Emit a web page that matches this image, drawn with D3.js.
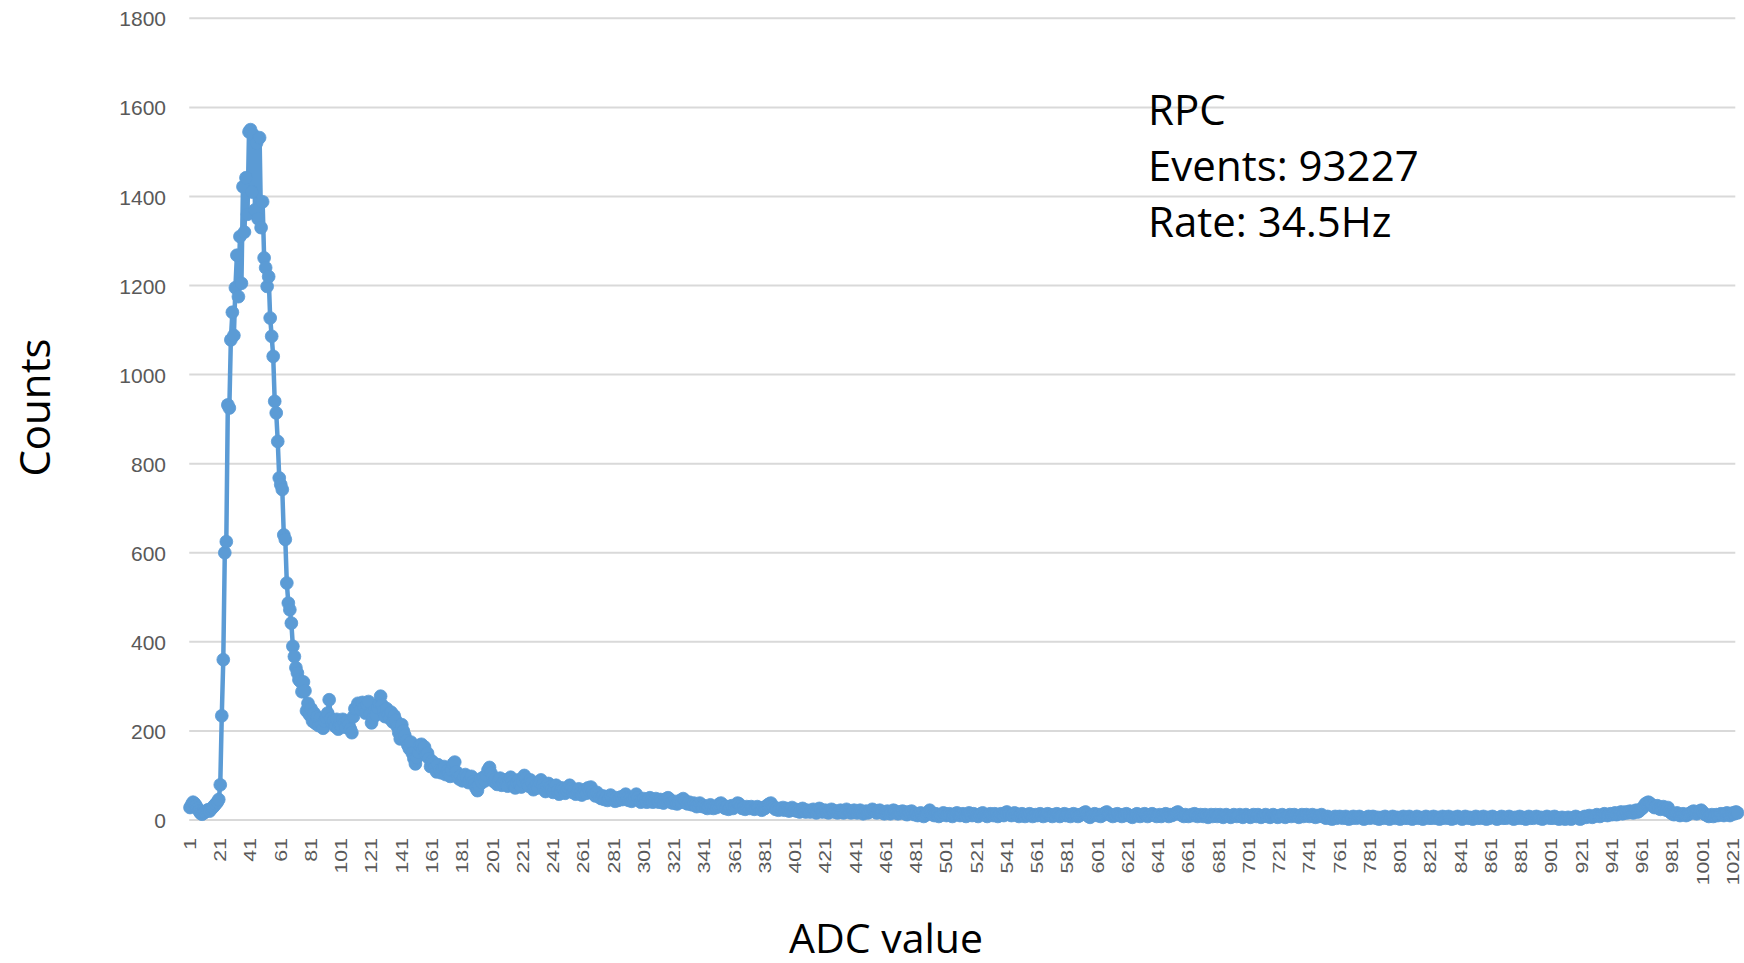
<!DOCTYPE html>
<html>
<head>
<meta charset="utf-8">
<script src="https://cdn.jsdelivr.net/npm/d3@7"></script>
<style>
  html, body { margin: 0; padding: 0; background: #ffffff; }
  svg { display: block; }
</style>
</head>
<body>
<svg id="chart" width="1744" height="963"></svg>
<script>
// ---- data: counts per ADC value (category 1..1024) ----
const counts001_100 = [
  28, 34, 40, 37, 32, 26, 20, 15, 13, 16,
  18, 21, 23, 20, 25, 28, 32, 36, 40, 46,
  79, 234, 360, 600, 625, 932, 925, 1078, 1140, 1088,
  1195, 1268, 1175, 1310, 1205, 1422, 1320, 1442, 1360, 1545,
  1550, 1410, 1538, 1370, 1520, 1350, 1532, 1330, 1388, 1262,
  1240, 1198, 1220, 1127, 1086, 1041, 940, 914, 850, 768,
  753, 742, 640, 630, 532, 487, 472, 442, 390, 367,
  342, 330, 315, 311, 288, 310, 290, 245, 262, 236,
  250, 222, 240, 217, 232, 212, 228, 215, 206, 222,
  230, 240, 270, 228, 218, 224, 210, 226, 204, 215
];
const counts101_200 = [
  212, 226, 218, 208, 222, 214, 204, 196, 232, 250,
  250, 262, 258, 248, 264, 252, 240, 260, 266, 238,
  218, 230, 246, 236, 252, 262, 278, 258, 245, 232,
  250, 236, 228, 242, 220, 234, 224, 210, 196, 182,
  214, 200, 190, 178, 168, 160, 175, 150, 138, 126,
  140, 152, 168, 170, 158, 164, 146, 150, 138, 120,
  132, 128, 118, 108, 124, 112, 106, 115, 120, 102,
  110, 104, 98, 112, 126, 130, 108, 96, 92, 100,
  88, 94, 102, 96, 84, 90, 98, 86, 80, 72,
  66, 78, 92, 84, 96, 88, 100, 112, 118, 105
];
const counts201_300 = [
  96, 86, 92, 80, 88, 94, 78, 84, 90, 82,
  76, 88, 96, 86, 78, 72, 84, 90, 80, 74,
  86, 100, 94, 82, 76, 90, 84, 68, 74, 80,
  72, 86, 90, 78, 70, 64, 76, 82, 74, 68,
  62, 70, 78, 66, 58, 64, 72, 68, 60, 66,
  72, 78, 70, 62, 66, 58, 64, 70, 60, 56,
  62, 68, 60, 72, 66, 74, 64, 58, 54, 62,
  56, 50, 48, 54, 46, 52, 44, 48, 56, 50,
  46, 42, 50, 44, 48, 52, 46, 54, 58, 50,
  44, 48, 42, 46, 52, 58, 50, 44, 40, 46
];
const counts301_400 = [
  48, 42, 40, 46, 50, 44, 40, 44, 48, 42,
  40, 46, 42, 38, 44, 48, 50, 46, 40, 38,
  42, 38, 36, 40, 44, 40, 48, 44, 38, 36,
  40, 36, 34, 38, 34, 30, 34, 38, 32, 30,
  32, 28, 26, 30, 34, 28, 26, 30, 28, 32,
  36, 38, 34, 28, 26, 30, 24, 28, 32, 26,
  30, 34, 38, 36, 30, 26, 28, 24, 30, 28,
  26, 30, 28, 24, 26, 30, 28, 24, 22, 28,
  26, 30, 34, 36, 38, 32, 28, 24, 26, 22,
  26, 24, 28, 22, 26, 24, 20, 24, 28, 22
];
const counts401_500 = [
  24, 20, 22, 18, 24, 26, 20, 18, 22, 20,
  18, 22, 24, 20, 16, 22, 26, 24, 18, 20,
  22, 18, 16, 20, 24, 22, 18, 20, 16, 18,
  22, 20, 16, 18, 24, 20, 18, 16, 20, 22,
  18, 16, 20, 22, 18, 14, 18, 20, 16, 18,
  20, 24, 22, 18, 16, 20, 22, 18, 16, 14,
  18, 20, 16, 14, 18, 22, 20, 16, 14, 18,
  16, 20, 18, 14, 12, 18, 16, 20, 14, 12,
  14, 10, 12, 16, 12, 8, 10, 14, 18, 22,
  16, 12, 10, 14, 12, 8, 10, 12, 16, 14
];
const counts501_600 = [
  10, 12, 14, 10, 8, 12, 14, 16, 12, 10,
  12, 14, 10, 8, 12, 16, 12, 10, 14, 12,
  10, 8, 12, 14, 16, 12, 10, 8, 12, 14,
  12, 10, 14, 12, 8, 10, 14, 12, 10, 16,
  18, 14, 12, 10, 12, 16, 14, 10, 8, 12,
  14, 10, 8, 12, 10, 14, 12, 8, 10, 12,
  10, 12, 14, 10, 8, 12, 10, 14, 12, 10,
  8, 12, 10, 14, 12, 8, 10, 12, 14, 10,
  12, 10, 8, 12, 14, 10, 12, 8, 10, 12,
  14, 16, 18, 12, 8, 6, 10, 12, 14, 12
];
const counts601_700 = [
  10, 12, 8, 10, 14, 16, 18, 14, 12, 10,
  8, 12, 10, 14, 12, 10, 8, 12, 10, 14,
  12, 10, 8, 6, 10, 12, 14, 10, 8, 12,
  10, 14, 12, 8, 10, 12, 14, 12, 10, 8,
  10, 12, 8, 10, 12, 14, 10, 8, 12, 10,
  12, 14, 16, 18, 14, 12, 10, 8, 12, 10,
  8, 10, 12, 10, 14, 12, 8, 10, 12, 10,
  8, 12, 10, 6, 10, 12, 8, 10, 12, 8,
  10, 12, 8, 6, 10, 12, 10, 8, 6, 10,
  12, 10, 8, 10, 12, 8, 6, 10, 12, 10
];
const counts701_800 = [
  8, 6, 10, 12, 10, 8, 12, 10, 6, 8,
  10, 12, 8, 10, 6, 8, 12, 10, 8, 6,
  10, 8, 12, 10, 6, 8, 10, 12, 8, 10,
  12, 10, 8, 6, 10, 12, 8, 10, 12, 10,
  8, 10, 12, 8, 6, 10, 8, 10, 12, 8,
  6, 4, 8, 6, 4, 2, 6, 8, 4, 6,
  8, 6, 4, 6, 8, 4, 2, 6, 4, 8,
  6, 4, 6, 8, 6, 4, 2, 4, 6, 8,
  4, 6, 8, 6, 4, 6, 2, 4, 6, 4,
  8, 6, 4, 2, 6, 8, 6, 4, 6, 4
];
const counts801_900 = [
  2, 6, 8, 4, 6, 4, 8, 6, 2, 4,
  6, 8, 4, 6, 4, 2, 6, 8, 6, 4,
  6, 4, 8, 6, 4, 6, 2, 4, 8, 6,
  4, 6, 8, 4, 2, 6, 4, 6, 8, 6,
  4, 2, 6, 8, 6, 4, 6, 4, 2, 6,
  8, 4, 6, 4, 6, 8, 4, 2, 6, 4,
  6, 8, 6, 4, 2, 4, 6, 8, 4, 6,
  4, 6, 8, 6, 4, 2, 6, 4, 6, 8,
  4, 6, 4, 2, 6, 8, 4, 6, 4, 6,
  8, 6, 4, 6, 2, 4, 6, 8, 6, 4
];
const counts901_1000 = [
  6, 4, 8, 6, 4, 2, 4, 6, 4, 2,
  4, 6, 4, 2, 4, 6, 8, 6, 4, 2,
  4, 6, 8, 6, 8, 10, 8, 6, 8, 10,
  12, 10, 8, 10, 12, 14, 12, 10, 12, 14,
  12, 14, 16, 12, 14, 16, 18, 14, 16, 18,
  16, 18, 20, 18, 16, 20, 22, 18, 20, 24,
  26, 30, 36, 38, 40, 38, 34, 32, 28, 30,
  32, 26, 24, 28, 30, 26, 22, 28, 20, 16,
  14, 12, 14, 16, 12, 10, 12, 14, 12, 10,
  12, 14, 16, 18, 20, 16, 14, 18, 20, 22
];
const counts1001_1024 = [
  18, 14, 12, 10, 8, 10, 12, 8, 10, 12,
  10, 12, 14, 12, 10, 14, 16, 12, 10, 14,
  16, 14, 18, 16
];

const yTickValues = [0, 200, 400, 600, 800, 1000, 1200, 1400, 1600, 1800];
const xTickStep = 20;
const annotationLines = ["RPC", "Events: 93227", "Rate: 34.5Hz"];
const xTitle = "ADC value";
const yTitle = "Counts";

(function draw() {
  const counts = [].concat(counts001_100, counts101_200, counts201_300, counts301_400,
    counts401_500, counts501_600, counts601_700, counts701_800, counts801_900,
    counts901_1000, counts1001_1024);
  const categories = counts.map((_, i) => i + 1);
  const data = categories.map((c, i) => ({ c, v: counts[i] }));
  const xTickLabels = categories.filter(c => (c - 1) % xTickStep === 0);

  const svg = d3.select("#chart");
  const blue = "#5B9BD5";
  const pLeft = 189.25, pRight = 1738.3, pTop = 18.3, pBottom = 820;

  const x = d3.scaleBand().domain(categories).range([pLeft, pRight]).paddingInner(0).paddingOuter(0);
  const y = d3.scaleLinear().domain([0, 1800]).range([pBottom, pTop]);
  const cx = c => x(c) + x.bandwidth() / 2;

  svg.append("rect").attr("width", 1744).attr("height", 963).attr("fill", "#ffffff");

  // gridlines
  svg.append("g").selectAll("line").data(yTickValues).join("line")
    .attr("x1", pLeft).attr("x2", pRight - 3)
    .attr("y1", d => y(d)).attr("y2", d => y(d))
    .attr("stroke", "#D9D9D9").attr("stroke-width", 2);

  // y axis labels
  const yAxis = d3.axisLeft(y).tickValues(yTickValues).tickSize(0).tickPadding(0).tickFormat(d3.format("d"));
  const gy = svg.append("g").attr("transform", "translate(166,0)").call(yAxis);
  gy.select(".domain").remove();
  gy.selectAll("text").attr("font-family", "'Liberation Sans', Arial, sans-serif")
    .attr("font-size", 21).attr("fill", "#595959").attr("dy", "0.36em").attr("x", 0);

  // x axis labels (rotated, stretched along the text direction like the reference)
  const xAxis = d3.axisBottom(x).tickValues(xTickLabels).tickSize(0).tickPadding(0);
  const gx = svg.append("g").attr("transform", "translate(0,838)").call(xAxis);
  gx.select(".domain").remove();
  gx.selectAll("text")
    .attr("font-family", "'Liberation Sans', Arial, sans-serif")
    .attr("font-size", 17).attr("fill", "#595959")
    .attr("transform", "rotate(-90) scale(1.25,1)")
    .attr("text-anchor", "end").attr("x", 0).attr("y", 0).attr("dy", "0.35em");

  // line
  const line = d3.line().x(d => cx(d.c)).y(d => y(d.v)).curve(d3.curveLinear);
  svg.append("path").datum(data).attr("d", line)
    .attr("fill", "none").attr("stroke", blue).attr("stroke-width", 4.5)
    .attr("stroke-linejoin", "round").attr("stroke-linecap", "round");

  // markers
  svg.append("g").selectAll("circle").data(data).join("circle")
    .attr("cx", d => cx(d.c)).attr("cy", d => y(d.v)).attr("r", 6.4)
    .attr("fill", blue).attr("stroke", blue).attr("stroke-width", 0.8);

  // annotation
  const titleFont = "'Open Sans', 'Noto Sans', sans-serif";
  svg.append("g").selectAll("text").data(annotationLines).join("text")
    .attr("x", 1148).attr("y", (d, i) => 125 + i * 56)
    .attr("font-family", titleFont).attr("font-size", 42).attr("fill", "#000")
    .text(d => d);

  // axis titles
  svg.append("text").attr("x", 886).attr("y", 953).attr("text-anchor", "middle")
    .attr("font-family", titleFont).attr("font-size", 41).attr("fill", "#000").text(xTitle);
  svg.append("text").attr("transform", "translate(50,407.5) rotate(-90)").attr("text-anchor", "middle")
    .attr("font-family", titleFont).attr("font-size", 42).attr("fill", "#000").text(yTitle);
})();
</script>
</body>
</html>
